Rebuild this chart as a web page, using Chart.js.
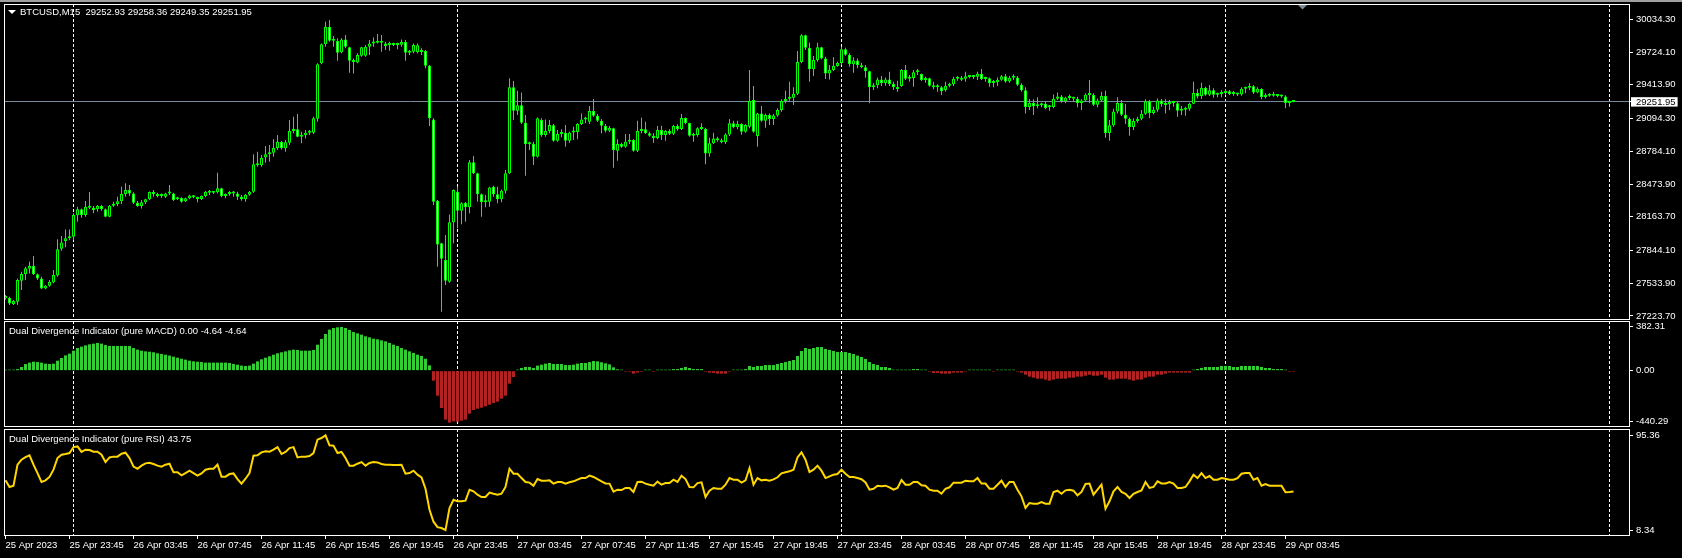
<!DOCTYPE html>
<html>
<head>
<meta charset="utf-8">
<title>BTCUSD,M15</title>
<script src="https://cdn.jsdelivr.net/npm/chart.js@4.4.0/dist/chart.umd.min.js"></script>
<style>
  html, body { margin: 0; padding: 0; background: #000; }
  body { width: 1682px; height: 558px; position: relative; overflow: hidden; font-family: 'Liberation Sans', Arial, sans-serif; }
  canvas { position: absolute; left: 0; }
  .lbl { position: absolute; color: #fff; font-size: 9.5px; line-height: 12px; white-space: pre; }
  #topbar { position: absolute; left: 0; top: 0; width: 1682px; height: 2px; background: #a0a0a0; }
  #arrow { position: absolute; left: 8px; top: 10px; width: 0; height: 0;
           border-left: 4px solid transparent; border-right: 4px solid transparent; border-top: 4px solid #fff; }
</style>
</head>
<body>
<div id="topbar"></div>
<canvas id="priceChart" width="1682" height="321" style="top:0"></canvas>
<canvas id="macdChart" width="1682" height="107" style="top:321px"></canvas>
<canvas id="rsiChart" width="1682" height="129" style="top:429px"></canvas>
<div id="arrow"></div>
<div class="lbl" style="left:20px;top:6px">BTCUSD,M15  29252.93 29258.36 29249.35 29251.95</div>
<div class="lbl" style="left:9px;top:325px">Dual Divergence Indicator (pure MACD) 0.00 -4.64 -4.64</div>
<div class="lbl" style="left:9px;top:433px">Dual Divergence Indicator (pure RSI) 43.75</div>
<script>
// M15 bars, first one is 25 Apr 2023 19:45
const opens = [
  27391,27397,27337,27359,27558,27621,27672,27697,27618,27580,27485,27511,27542,27608,27861,27934,27959,27975,28177,28234,
  28180,28259,28250,28234,28265,28234,28164,28269,28284,28310,28379,28417,28385,28297,28265,28300,28329,28398,28379,28360,
  28354,28385,28385,28329,28341,28310,28338,28363,28348,28332,28360,28401,28392,28395,28433,28360,28379,28398,28385,28354,
  28329,28373,28401,28660,28651,28726,28755,28771,28815,28875,28812,28865,28976,28992,28922,28935,28960,28960,29093,29617,
  29797,29964,29832,29829,29721,29844,29769,29642,29626,29690,29690,29775,29806,29822,29813,29806,29791,29806,29791,29794,
  29819,29718,29728,29721,29737,29734,29595,29086,28316,27912,27754,27548,28111,28401,28221,28297,28253,28679,28575,28376,
  28300,28306,28449,28376,28329,28411,28575,29390,29169,29219,29055,28850,28856,28733,29080,28938,28976,29030,28884,28947,
  28960,28884,28963,28966,29042,29086,29064,29165,29121,29074,29026,28979,29001,28790,28853,28828,28875,28891,28790,28976,
  28992,28954,28932,28910,28985,28938,28976,28951,29023,28995,29099,29052,28932,28938,29001,28995,28764,28859,28906,28888,
  28869,28944,29049,29011,29042,28970,29017,29270,28929,29143,29074,29127,29090,29124,29175,29260,29282,29292,29330,29630,
  29882,29765,29560,29649,29769,29664,29522,29554,29592,29620,29750,29699,29608,29645,29598,29579,29541,29390,29409,29465,
  29431,29465,29421,29390,29402,29554,29472,29478,29532,29516,29459,29475,29405,29390,29390,29364,29405,29418,29472,29481,
  29472,29494,29488,29491,29519,29469,29475,29431,29437,29462,29494,29446,29481,29484,29415,29361,29203,29241,29210,29219,
  29235,29200,29203,29282,29304,29257,29292,29289,29282,29241,29266,29320,29317,29225,29266,29308,28957,29030,29162,29241,
  29131,29093,29014,29071,29093,29140,29257,29146,29178,29266,29232,29229,29251,29238,29169,29178,29187,29235,29336,29308,
  29386,29320,29361,29320,29326,29336,29352,29326,29336,29323,29377,29386,29399,29342,29377,29298,29320,29311,29320,29308,
  29304,29241,29252.93
];
const highs = [
  27422,27406,27375,27580,27643,27691,27738,27792,27627,27596,27517,27564,27659,27950,27981,28044,28044,28196,28259,28243,
  28313,28398,28265,28275,28275,28243,28275,28306,28354,28449,28480,28464,28395,28313,28322,28335,28404,28417,28392,28385,
  28392,28464,28392,28354,28348,28344,28373,28370,28354,28366,28407,28417,28404,28581,28439,28385,28407,28407,28401,28370,
  28379,28407,28755,28780,28749,28834,28843,28897,28938,28881,28891,29080,29112,29137,28970,28985,28985,29112,29617,29806,
  30012,30028,29876,29854,29854,29885,29775,29664,29712,29775,29791,29838,29863,29895,29885,29822,29822,29813,29813,29844,
  29838,29743,29806,29806,29759,29743,29601,29096,28322,27918,27991,28186,28423,28449,28300,28303,28701,28739,28581,28385,
  28370,28449,28458,28449,28423,28606,29475,29450,29358,29342,29127,28875,28875,29105,29096,29086,29080,29042,28985,28992,
  29033,28970,29017,29049,29143,29112,29213,29279,29137,29090,29042,29023,29007,28897,28865,28947,28947,28897,29074,29102,
  29064,28970,28954,29023,29026,28985,28992,29033,29039,29137,29105,29055,28960,29011,29049,29007,28913,28960,28922,28906,
  28954,29090,29074,29074,29049,29042,29554,29402,29150,29213,29143,29143,29137,29191,29276,29358,29443,29390,29734,29892,
  29889,29813,29686,29813,29775,29680,29601,29674,29633,29775,29765,29712,29674,29664,29623,29601,29548,29428,29484,29497,
  29484,29538,29443,29453,29563,29601,29506,29554,29563,29522,29491,29481,29443,29418,29402,29443,29434,29491,29497,29497,
  29538,29506,29506,29538,29563,29491,29484,29459,29484,29506,29516,29497,29513,29497,29428,29390,29279,29276,29295,29244,
  29254,29222,29323,29342,29317,29301,29323,29301,29301,29276,29333,29459,29333,29285,29349,29358,29080,29187,29295,29270,
  29232,29105,29096,29112,29175,29276,29270,29206,29285,29279,29276,29270,29263,29254,29213,29206,29244,29443,29371,29434,
  29396,29412,29380,29339,29364,29371,29364,29355,29339,29390,29396,29428,29412,29390,29380,29333,29333,29349,29326,29320,
  29314,29263,29258.36
];
const lows = [
  27381,27327,27327,27327,27470,27564,27627,27612,27564,27479,27476,27501,27533,27596,27842,27874,27943,27943,28117,28155,
  28164,28237,28196,28212,28221,28158,28158,28259,28265,28284,28354,28360,28284,28259,28243,28284,28322,28354,28348,28341,
  28341,28370,28313,28322,28297,28303,28329,28338,28300,28322,28348,28370,28379,28385,28348,28338,28363,28354,28322,28316,
  28306,28363,28392,28638,28638,28676,28685,28733,28796,28802,28780,28843,28954,28916,28859,28906,28938,28947,29064,29608,
  29775,29822,29775,29642,29712,29759,29529,29522,29617,29680,29680,29696,29775,29806,29728,29743,29737,29781,29750,29775,
  29642,29696,29712,29712,29696,29570,29023,28275,27691,27264,27517,27539,27912,28054,28092,28117,28196,28568,28306,28164,
  28253,28259,28354,28291,28300,28385,28568,29080,29127,29042,28553,28796,28654,28726,28922,28922,28954,28875,28875,28916,
  28828,28865,28891,28897,29033,29049,29042,29112,29061,28954,28963,28966,28629,28695,28818,28818,28853,28780,28777,28954,
  28947,28922,28865,28897,28891,28884,28938,28938,28979,28985,29039,28922,28875,28922,28985,28660,28733,28853,28875,28859,
  28853,28929,29001,28992,28941,28960,29001,28960,28828,29064,29007,29033,29033,29112,29159,29238,29263,29222,29317,29617,
  29743,29443,29497,29633,29655,29469,29465,29544,29585,29601,29690,29585,29529,29570,29570,29481,29238,29364,29380,29402,
  29405,29402,29364,29349,29396,29459,29443,29396,29506,29450,29434,29396,29371,29349,29317,29349,29390,29402,29453,29450,
  29443,29475,29469,29459,29459,29443,29396,29390,29402,29453,29434,29434,29459,29402,29349,29143,29175,29127,29191,29200,
  29181,29169,29191,29270,29244,29238,29270,29254,29200,29175,29254,29238,29213,29200,29254,28913,28884,29017,29143,29118,
  29042,28932,28985,29055,29080,29127,29096,29134,29159,29206,29143,29175,29206,29112,29127,29121,29169,29232,29285,29279,
  29311,29308,29292,29295,29295,29317,29317,29311,29308,29311,29333,29364,29326,29333,29276,29285,29301,29301,29295,29292,
  29191,29206,29249.35
];
const closes = [
  27413,27343,27365,27564,27621,27675,27697,27618,27580,27485,27511,27548,27612,27855,27921,27959,27978,28180,28234,28180,
  28259,28250,28228,28265,28234,28164,28269,28284,28310,28379,28417,28385,28297,28265,28300,28329,28398,28379,28360,28370,
  28385,28389,28322,28341,28306,28338,28366,28348,28332,28360,28401,28392,28395,28433,28360,28379,28398,28385,28354,28329,
  28373,28401,28660,28651,28723,28755,28771,28815,28875,28812,28869,28976,28992,28922,28935,28960,28963,29096,29608,29797,
  29964,29832,29835,29718,29844,29775,29642,29630,29696,29769,29775,29806,29822,29813,29822,29781,29813,29791,29800,29819,
  29718,29734,29791,29788,29724,29595,29096,28306,27902,27766,27558,28111,28417,28221,28291,28253,28679,28575,28376,28300,
  28306,28442,28376,28329,28411,28575,29390,29169,29219,29055,28850,28856,28733,29096,28938,28976,29033,28884,28947,28960,
  28884,28963,28966,29042,29086,29096,29165,29121,29074,29026,28979,29004,28796,28853,28828,28875,28891,28790,28976,28992,
  28954,28932,28910,28985,28938,28976,28951,29023,28995,29099,29052,28932,28938,29001,28995,28764,28859,28906,28888,28869,
  28944,29049,29011,29042,28970,29033,29260,28970,29143,29074,29127,29090,29124,29175,29260,29282,29292,29330,29630,29882,
  29765,29560,29649,29769,29664,29522,29554,29592,29620,29750,29699,29608,29645,29598,29579,29541,29390,29409,29465,29431,
  29465,29421,29390,29374,29554,29472,29478,29532,29535,29459,29478,29405,29390,29399,29352,29405,29418,29472,29481,29462,
  29494,29488,29491,29519,29469,29478,29431,29437,29462,29494,29446,29481,29488,29415,29361,29203,29241,29210,29219,29235,
  29194,29206,29282,29304,29257,29292,29289,29282,29241,29266,29320,29317,29225,29266,29308,28957,29030,29162,29241,29131,
  29093,29014,29071,29093,29140,29257,29146,29178,29266,29232,29222,29251,29241,29169,29178,29187,29235,29336,29304,29386,
  29320,29361,29320,29326,29336,29352,29326,29336,29323,29377,29386,29399,29342,29377,29298,29320,29311,29320,29308,29304,
  29241,29257,29251.95
];
const macdHist = [
  2,2,2,14,32,58,70,78,75,70,61,58,61,87,110,133,148,174,197,209,
  220,229,235,241,235,223,215,215,215,215,215,215,197,183,174,168,165,160,151,145,
  139,131,122,113,104,96,87,81,78,75,70,70,70,70,70,70,67,58,52,44,
  41,44,61,81,99,113,125,139,151,160,168,177,183,180,174,174,174,180,226,276,
  319,357,371,377,380,371,354,336,325,313,299,290,278,273,264,255,241,226,215,197,
  183,168,154,139,128,104,46,-87,-218,-325,-426,-452,-441,-444,-435,-426,-374,-342,-331,-322,
  -310,-296,-281,-270,-244,-218,-113,-55,3,23,32,32,23,44,52,61,67,58,58,58,
  49,49,52,61,67,67,75,84,81,73,64,55,29,12,3,-6,-9,-26,-17,-9,
  3,1,-5,6,6,6,9,14,14,23,32,23,14,14,14,-9,-17,-20,-26,-26,
  -26,-6,3,3,3,14,41,32,41,41,49,49,49,58,67,75,84,93,128,171,
  197,189,197,206,206,189,180,171,162,162,162,154,145,131,119,102,75,58,49,32,
  32,23,6,6,6,6,6,14,14,6,6,-6,-20,-20,-26,-26,-26,-17,-17,-17,
  -6,1,6,6,6,6,6,-6,2,6,2,6,6,-6,-17,-35,-52,-61,-70,-70,
  -78,-87,-78,-70,-70,-70,-61,-61,-52,-52,-44,-35,-44,-44,-35,-61,-78,-78,-70,-70,
  -70,-78,-87,-78,-78,-61,-52,-52,-35,-35,-26,-17,-17,-17,-17,-17,-17,6,14,23,
  32,32,32,32,41,41,41,32,32,41,41,41,41,41,32,23,23,14,14,14,
  6,-5,-4.64
];
const rsiValues = [
  54.0,47.9,49.1,68.4,73.0,75.4,77.0,68.4,60.7,52.5,54.0,57.1,63.8,74.5,77.6,78.2,79.1,84.6,85.2,80.1,
  82.2,81.9,80.3,80.3,77.6,70.8,75.1,75.8,75.8,78.5,79.4,74.5,66.6,64.7,67.5,69.6,70.2,69.0,67.5,66.6,
  68.4,69.3,61.4,61.4,58.6,60.7,62.9,60.7,58.3,60.4,63.8,64.7,64.7,68.4,57.4,57.4,59.8,60.4,55.2,51.0,
  55.5,60.7,76.7,77.0,79.7,80.7,80.3,82.2,84.6,78.2,80.1,83.7,84.6,75.1,75.8,75.8,76.4,79.1,91.4,92.9,
  95.4,86.2,85.9,79.1,80.1,74.5,67.5,67.5,69.3,70.8,67.5,70.0,70.8,70.5,69.0,68.4,68.4,68.1,68.1,68.4,
  60.1,60.7,62.9,59.2,56.8,46.3,27.0,16.0,11.0,10.2,8.3,28.6,36.2,34.7,34.7,35.3,45.4,43.9,40.8,38.7,
  38.7,42.7,41.7,40.8,41.7,47.9,64.7,60.1,60.1,56.1,52.5,51.9,49.1,55.2,53.7,53.7,54.0,51.0,52.5,52.5,
  51.0,52.2,53.1,54.6,56.1,56.1,58.3,57.1,55.2,53.1,51.2,51.0,43.6,45.4,45.1,47.0,47.0,43.3,52.5,52.8,
  51.0,50.0,49.1,52.8,50.0,51.5,51.5,54.6,52.5,58.3,55.2,47.9,47.6,51.5,52.2,38.7,44.5,47.0,46.3,46.3,
  50.0,56.1,54.6,54.6,51.9,54.0,65.3,50.0,56.1,54.0,54.6,53.7,54.9,56.8,60.4,61.4,62.3,63.8,75.1,79.7,
  73.0,61.7,63.8,67.5,62.9,56.1,57.7,59.2,59.8,63.8,60.1,57.1,57.1,56.1,55.0,52.0,45.4,46.3,49.1,48.5,
  49.1,47.6,45.4,47.0,54.3,50.0,50.0,52.5,52.5,49.4,49.1,45.4,44.5,44.5,41.7,46.3,47.6,51.9,51.9,51.9,
  53.7,53.1,53.1,56.1,51.0,51.0,46.3,46.3,50.0,53.7,47.9,52.5,52.5,45.4,39.3,28.6,33.2,32.6,32.6,34.1,
  32.6,32.6,43.3,44.5,41.7,44.8,45.4,44.5,40.2,43.3,50.6,51.0,40.8,45.4,50.0,28.0,34.7,43.9,47.9,43.3,
  41.7,37.8,41.7,43.3,44.8,52.5,47.0,47.9,53.1,51.2,51.2,52.5,51.0,47.0,47.0,47.9,53.1,59.2,56.1,60.7,
  56.1,58.0,54.6,54.6,56.1,55.5,54.6,54.6,56.1,60.1,60.7,60.7,54.6,56.1,49.1,50.6,49.1,49.1,49.1,49.1,
  43.0,43.3,43.75
];

const priceTicks = [30034.30, 29724.10, 29413.90, 29094.30, 28784.10, 28473.90, 28163.70, 27844.10, 27533.90, 27223.70];
const lastPrice = 29251.95;
const macdTicks = [382.31, 0, -440.29];
const rsiTicks = [95.36, 8.34];
const tickBars = [0, 16, 32, 48, 64, 80, 96, 112, 128, 144, 160, 176, 192, 208, 224, 240, 256, 272, 288, 304, 320];
const tickLabels = ['25 Apr 2023', '25 Apr 23:45', '26 Apr 03:45', '26 Apr 07:45', '26 Apr 11:45', '26 Apr 15:45',
  '26 Apr 19:45', '26 Apr 23:45', '27 Apr 03:45', '27 Apr 07:45', '27 Apr 11:45', '27 Apr 15:45', '27 Apr 19:45',
  '27 Apr 23:45', '28 Apr 03:45', '28 Apr 07:45', '28 Apr 11:45', '28 Apr 15:45', '28 Apr 19:45', '28 Apr 23:45',
  '29 Apr 03:45'];
const daySeparators = [17, 113, 209, 305, 401];   // bars at 00:00

Chart.defaults.font.family = "'Liberation Sans', Arial, sans-serif";
Chart.defaults.font.size = 9.5;
Chart.defaults.color = '#fff';

const barIndex = opens.map((_, i) => i);

// dotted day separators under the data, white frame around every pane
const paneFrame = {
  id: 'paneFrame',
  beforeDatasetsDraw(chart) {
    const {ctx, chartArea: a} = chart;
    const xs = chart.scales.x;
    ctx.save();
    ctx.beginPath();
    ctx.rect(a.left, a.top, a.right - a.left, a.bottom - a.top);
    ctx.clip();
    ctx.strokeStyle = '#fff';
    ctx.lineWidth = 1;
    ctx.setLineDash([3, 2]);
    daySeparators.forEach(b => {
      const px = Math.floor(xs.getPixelForValue(b)) + 0.5;
      ctx.beginPath();
      ctx.moveTo(px, a.top);
      ctx.lineTo(px, a.bottom);
      ctx.stroke();
    });
    ctx.restore();
  },
  afterDraw(chart) {
    const {ctx, chartArea: a} = chart;
    ctx.save();
    ctx.strokeStyle = '#fff';
    ctx.lineWidth = 1;
    ctx.strokeRect(a.left + 0.5, a.top + 0.5, a.right - a.left - 1, a.bottom - a.top - 1);
    ctx.restore();
  }
};

function xAxis(show) {
  return {
    type: 'linear',
    min: -0.375,
    max: 406.125,
    offset: false,
    display: show,
    grid: { display: show, offset: false, drawOnChartArea: false, drawTicks: true, tickLength: 3, color: '#fff', tickColor: '#fff' },
    border: { display: false },
    afterBuildTicks: axis => { axis.ticks = tickBars.map(v => ({ value: v })); },
    afterFit: axis => {
      axis.height = show ? 22 : 0;
      axis.paddingLeft = 0;
      axis.paddingRight = 0;
    },
    ticks: {
      autoSkip: false, maxRotation: 0, minRotation: 0, align: 'start', padding: 1, color: '#fff',
      callback: (v, i) => tickLabels[i]
    }
  };
}

function yAxis(min, max, values, extraTicks) {
  return {
    position: 'right',
    min: min,
    max: max,
    grid: { drawOnChartArea: false, drawTicks: true, tickLength: 3, color: '#fff', tickColor: '#fff' },
    border: { display: false },
    afterBuildTicks: axis => { axis.ticks = values.map(v => ({ value: v })); },
    afterFit: axis => { axis.width = 52; axis.paddingTop = 0; axis.paddingBottom = 0; },
    ticks: Object.assign({
      autoSkip: false, padding: 3, color: '#fff',
      callback: v => Number(v).toFixed(2)
    }, extraTicks || {})
  };
}

const baseOptions = {
  responsive: false,
  animation: false,
  devicePixelRatio: 1,
  events: [],
  plugins: { legend: { display: false }, tooltip: { enabled: false } }
};

// --- price pane: candles ---
new Chart(document.getElementById('priceChart'), {
  type: 'bar',
  data: {
    datasets: [
      {
        label: 'body',
        order: 0,
        grouped: false,
        data: barIndex.map(i => ({ x: i, y: [opens[i], closes[i]] })),
        barThickness: 3,
        minBarLength: 2,
        borderWidth: 1,
        borderSkipped: false,
        inflateAmount: 0,
        borderColor: '#00ff00',
        backgroundColor: c => closes[c.dataIndex] < opens[c.dataIndex] ? '#ffffff' : '#000000'
      },
      {
        label: 'wick',
        order: 1,
        grouped: false,
        data: barIndex.map(i => ({ x: i, y: [lows[i], highs[i]] })),
        barThickness: 1,
        borderWidth: 0,
        inflateAmount: 0,
        backgroundColor: '#00ff00'
      }
    ]
  },
  options: Object.assign({}, baseOptions, {
    layout: { padding: { left: 4, top: 4, right: 0, bottom: 1 }, autoPadding: false },
    scales: {
      x: xAxis(false),
      y: yAxis(27185.7, 30179.2, priceTicks.concat([lastPrice]), {
        color: c => (c.tick && c.tick.value === lastPrice) ? '#000' : '#fff',
        showLabelBackdrop: c => !!(c.tick && c.tick.value === lastPrice),
        backdropColor: '#fff',
        backdropPadding: { left: 5, right: 2, top: -1, bottom: -1 }
      })
    }
  }),
  plugins: [paneFrame, {
    id: 'lastPriceLine',
    beforeDatasetsDraw(chart) {
      const {ctx, chartArea: a} = chart;
      const py = Math.floor(chart.scales.y.getPixelForValue(lastPrice)) + 0.5;
      ctx.save();
      ctx.strokeStyle = '#778899';
      ctx.lineWidth = 1;
      ctx.beginPath();
      ctx.moveTo(a.left, py);
      ctx.lineTo(a.right, py);
      ctx.stroke();
      ctx.restore();
    },
    afterDraw(chart) {
      // chart shift marker
      const {ctx, chartArea: a} = chart;
      const cx = a.right - 327.5;
      ctx.save();
      ctx.fillStyle = '#7f8a96';
      ctx.beginPath();
      ctx.moveTo(cx - 4.5, a.top + 1);
      ctx.lineTo(cx + 4.5, a.top + 1);
      ctx.lineTo(cx, a.top + 5.5);
      ctx.closePath();
      ctx.fill();
      ctx.restore();
    }
  }]
});

// --- MACD histogram pane ---
new Chart(document.getElementById('macdChart'), {
  type: 'bar',
  data: {
    datasets: [{
      label: 'MACD',
      data: barIndex.map(i => ({ x: i, y: macdHist[i] })),
      barThickness: 3,
      minBarLength: 1,
      borderWidth: 0,
      inflateAmount: 0,
      backgroundColor: c => macdHist[c.dataIndex] < 0 ? '#b22222' : '#32cd32'
    }]
  },
  options: Object.assign({}, baseOptions, {
    layout: { padding: { left: 4, top: 0, right: 0, bottom: 1 }, autoPadding: false },
    scales: {
      x: xAxis(false),
      y: yAxis(-490.1, 432.1, macdTicks)
    }
  }),
  plugins: [paneFrame]
});

// --- RSI pane with the time axis ---
new Chart(document.getElementById('rsiChart'), {
  type: 'line',
  data: {
    datasets: [{
      label: 'RSI',
      data: barIndex.map(i => ({ x: i, y: rsiValues[i] })),
      borderColor: '#ffd700',
      borderWidth: 2,
      pointRadius: 0,
      tension: 0,
      fill: false
    }]
  },
  options: Object.assign({}, baseOptions, {
    layout: { padding: { left: 4, top: 0, right: 0, bottom: 0 }, autoPadding: false },
    scales: {
      x: xAxis(true),
      y: yAxis(2.85, 101.2, rsiTicks)
    }
  }),
  plugins: [paneFrame]
});
</script>
</body>
</html>
